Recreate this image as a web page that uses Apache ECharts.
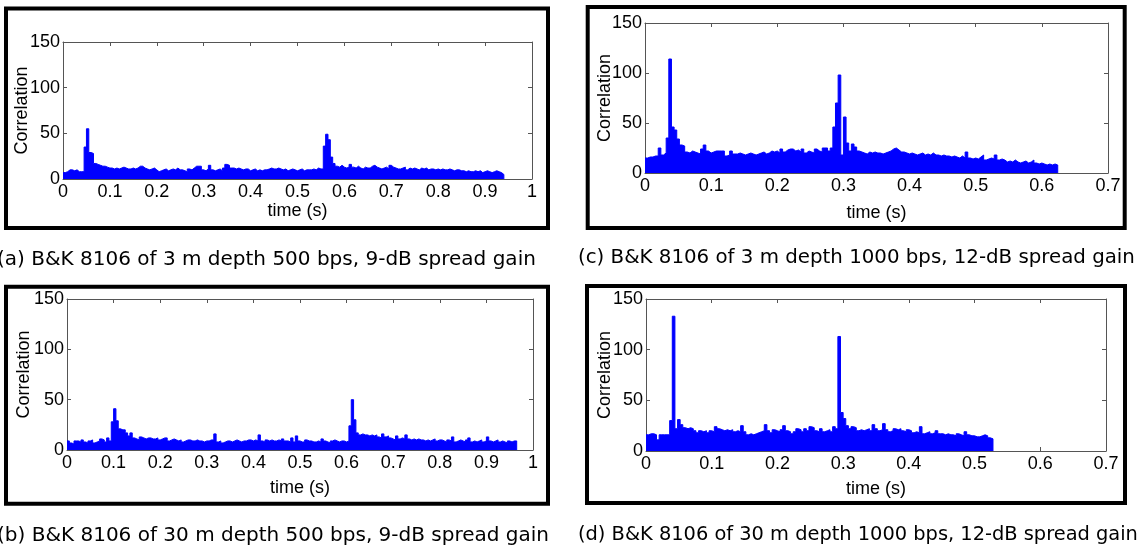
<!DOCTYPE html>
<html>
<head>
<meta charset="utf-8">
<script src="https://cdn.jsdelivr.net/npm/echarts@6/dist/echarts.min.js"></script>
<style>
html,body{margin:0;padding:0;background:#fff;}
#chart{width:1145px;height:552px;}
</style>
</head>
<body>
<div id="chart"></div>
<script>
// ---------- DATA ----------
const captions = [
  '(a) B&K 8106 of 3 m depth 500 bps, 9-dB spread gain',
  '(b) B&K 8106 of 30 m depth 500 bps, 9-dB spread gain',
  '(c) B&K 8106 of 3 m depth 1000 bps, 12-dB spread gain',
  '(d) B&K 8106 of 30 m depth 1000 bps, 12-dB spread gain'
];
const xAxisName = 'time (s)';
const yAxisName = 'Correlation';
const yTicks = [0, 50, 100, 150];
const xMaxShort = 0.7;   // panels (c),(d)
const xMaxLong = 1;      // panels (a),(b)

// bin widths (s)
const binA = 0.005, binB = 0.005, binC = 0.004, binD = 0.004;

// (a) 3 m, 500 bps
const valuesA = [
  7,8,10,10,9,10,8,8,8,35,
  55,29,28,17,16,15,14,14,13,12,
  12,11,12,11,12,13,12,11,11,12,
  11,12,14,14,12,11,10,11,12,10,
  8,9,10,11,9,10,11,10,12,10,
  10,9,8,11,10,12,14,14,14,10,
  9,11,15,10,9,10,11,9,12,16,
  15,12,12,11,12,11,10,11,11,9,
  10,11,9,10,9,10,10,11,12,11,
  11,12,11,10,11,9,10,11,10,9,
  10,11,9,10,10,10,11,10,12,11,
  11,36,49,43,24,17,14,13,15,13,
  12,13,16,13,12,14,12,11,13,12,
  12,14,15,13,12,11,12,13,11,15,
  13,12,11,11,12,13,10,12,11,12,
  11,10,12,11,12,10,11,11,10,11,
  10,11,10,10,11,10,9,10,10,9,
  9,8,9,8,8,9,8,9,7,8,
  9,8,7,8,9,8,7,5
];

// (b) 30 m, 500 bps
const valuesB = [
  9,7,6,9,9,8,10,8,7,9,
  10,7,8,9,11,10,8,12,9,28,
  41,29,21,20,20,17,14,17,12,11,
  10,13,12,11,12,12,11,11,12,10,
  11,12,12,9,10,11,10,9,10,8,
  9,10,10,9,9,10,9,9,8,9,
  9,10,10,16,8,9,7,8,9,9,
  8,9,10,9,8,9,9,10,10,9,
  10,9,15,9,8,10,9,10,9,9,
  10,9,11,9,9,8,12,8,14,9,
  8,8,10,9,9,8,8,9,8,11,
  9,8,7,9,10,9,8,9,9,8,
  9,24,50,30,17,15,16,15,15,14,
  15,14,15,13,12,16,13,14,12,11,
  10,14,11,12,11,15,11,10,11,10,
  11,10,10,9,10,9,10,11,9,10,
  10,9,8,10,9,13,8,9,10,9,
  8,10,12,8,9,8,9,10,8,9,
  13,9,8,9,10,8,9,8,7,9,
  8,9,9
];

// (c) 3 m, 1000 bps
const valuesC = [
  15,16,16,17,17,25,18,20,35,114,
  46,43,34,28,27,21,20,22,21,20,
  19,24,28,22,20,21,22,22,22,22,
  17,18,22,19,19,20,19,18,19,20,
  19,18,19,20,21,19,20,22,21,22,
  20,24,21,23,24,24,22,23,21,24,
  20,22,21,20,24,22,21,25,25,22,
  25,46,70,98,18,56,30,22,29,26,
  22,21,20,19,21,20,21,20,20,19,
  20,21,22,24,25,23,21,21,20,19,
  20,19,18,19,20,18,19,18,20,18,
  18,17,18,17,17,16,17,16,15,17,
  15,21,15,14,15,14,16,18,13,14,
  15,14,18,13,14,13,11,12,11,13,
  11,10,11,12,10,11,13,10,9,10,
  9,8,9,8,9,8
];

// (d) 30 m, 1000 bps
const valuesD = [
  16,17,17,16,11,16,16,16,16,30,
  133,22,31,26,23,22,23,22,20,18,
  20,19,20,18,20,19,24,22,21,20,
  21,20,21,19,20,19,25,19,16,17,
  16,17,18,19,20,26,20,18,21,20,
  19,21,25,20,19,17,19,22,21,19,
  22,20,24,23,20,19,22,19,20,21,
  19,24,22,113,38,32,25,22,24,23,
  20,21,20,21,22,20,26,22,20,21,
  27,21,19,20,22,21,22,20,19,21,
  20,18,19,18,24,17,18,19,17,18,
  20,17,17,16,17,16,16,15,17,16,
  15,19,16,15,15,14,14,15,16,15,
  13,12
];

// ---------- BUILD ----------
function stairs(values, dt) {
  const pts = values.map((v, i) => [+(i * dt).toFixed(4), v]);
  pts.push([+(values.length * dt).toFixed(4), 0]);
  return pts;
}

const panels = [
  { values: valuesA, dt: binA, xMax: xMaxLong,
    grid: {left: 63, top: 42, width: 469, height: 137}, xNameGap: 22, yNameGap: 32,
    frame: {x: 6, y: 8.5, width: 542, height: 219.5}, cap: {x: -3, y: 260}, capSize: 20, capText: captions[0] },
  { values: valuesC, dt: binC, xMax: xMaxShort,
    grid: {left: 645, top: 23, width: 463, height: 150}, xNameGap: 31, yNameGap: 31,
    frame: {x: 587.7, y: 7, width: 537, height: 221}, cap: {x: 578, y: 258}, capSize: 19.8, capText: captions[2] },
  { values: valuesB, dt: binB, xMax: xMaxLong,
    grid: {left: 67, top: 299, width: 466, height: 151}, xNameGap: 29, yNameGap: 34,
    frame: {x: 6, y: 286.7, width: 542, height: 217}, cap: {x: -3, y: 536}, capSize: 20, capText: captions[1] },
  { values: valuesD, dt: binD, xMax: xMaxShort,
    grid: {left: 646, top: 299, width: 460, height: 152}, xNameGap: 29, yNameGap: 32,
    frame: {x: 587, y: 286, width: 538, height: 217}, cap: {x: 578, y: 535}, capSize: 19.4, capText: captions[3] }
];

const axisColor = '#555';
const txt = {color: '#000', fontFamily: 'Liberation Sans, Arial, sans-serif', fontSize: 18};

const grid = [], xAxis = [], yAxis = [], series = [], graphic = [];
panels.forEach((p, i) => {
  grid.push(Object.assign({containLabel: false}, p.grid));
  const commonX = {
    type: 'value', gridIndex: i, min: 0, max: p.xMax, interval: 0.1,
    splitLine: {show: false},
    axisLine: {show: true, onZero: false, lineStyle: {color: axisColor, width: 1}},
    axisTick: {show: true, inside: true, length: 4, lineStyle: {color: axisColor}}
  };
  xAxis.push(Object.assign({}, commonX, {
    position: 'bottom',
    axisLabel: Object.assign({margin: 4}, txt),
    name: xAxisName, nameLocation: 'middle', nameGap: p.xNameGap,
    nameTextStyle: txt
  }));
  xAxis.push(Object.assign({}, commonX, {position: 'top', axisLabel: {show: false}}));
  const commonY = {
    type: 'value', gridIndex: i, min: yTicks[0], max: yTicks[yTicks.length - 1], interval: 50,
    splitLine: {show: false},
    axisLine: {show: true, onZero: false, lineStyle: {color: axisColor, width: 1}},
    axisTick: {show: true, inside: true, length: 4, lineStyle: {color: axisColor}}
  };
  yAxis.push(Object.assign({}, commonY, {
    position: 'left',
    axisLabel: Object.assign({margin: 3}, txt),
    name: yAxisName, nameLocation: 'middle', nameGap: p.yNameGap, nameMoveOverlap: false,
    nameTextStyle: txt
  }));
  yAxis.push(Object.assign({}, commonY, {position: 'right', axisLabel: {show: false}}));
  series.push({
    type: 'line', xAxisIndex: 2 * i, yAxisIndex: 2 * i, step: 'end',
    showSymbol: false, symbol: 'none', silent: true,
    lineStyle: {color: '#0000ff', width: 1},
    areaStyle: {color: '#0000ff', opacity: 1},
    data: stairs(p.values, p.dt)
  });
  graphic.push({
    type: 'rect', shape: p.frame, silent: true,
    style: {fill: null, stroke: '#000', lineWidth: 4}
  });
  graphic.push({
    type: 'text', x: p.cap.x, y: p.cap.y, silent: true,
    style: {text: p.capText, fill: '#000', font: p.capSize + 'px "DejaVu Sans", sans-serif',
            textVerticalAlign: 'middle', textAlign: 'left'}
  });
});

const chart = echarts.init(document.getElementById('chart'), null, {renderer: 'canvas'});
chart.setOption({
  animation: false,
  backgroundColor: '#fff',
  grid, xAxis, yAxis, series, graphic
});
</script>
</body>
</html>
